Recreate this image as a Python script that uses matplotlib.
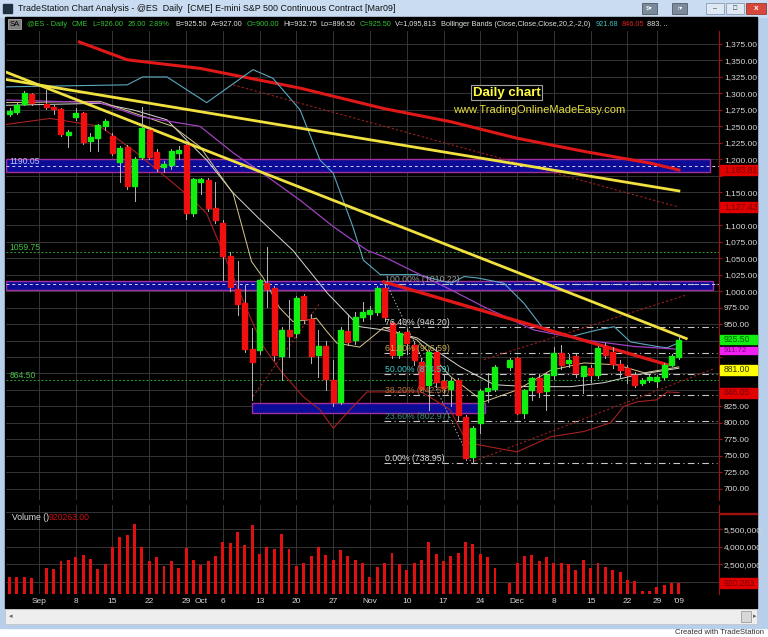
import numpy as np
import pandas as pd
import matplotlib
matplotlib.use('Agg')
import matplotlib.pyplot as plt
from matplotlib.patches import Rectangle

plt.rcParams['font.family'] = ['Liberation Sans', 'DejaVu Sans']

W, H = 768, 637

# ---- data -------------------------------------------------------------
days = [d.strftime('%Y-%m-%d') for d in pd.bdate_range('2008-08-26', '2009-01-02')
        if d.strftime('%m-%d') not in ('12-25', '01-01')]

nan = np.nan
opens = [1269, 1272, 1284, 1299, nan, 1284, 1280, 1276, 1237,
         1264, 1270, 1228, 1233, 1251, 1235, 1196, 1219, 1160, 1204,
         1245, 1211, 1188, 1191, 1210, 1222, 1119, 1166, 1168, 1126,
         1104, 1053, 1003, 982, 912, 910, 1013, 1005, 901, 941,
         937, 993, 957, 903, 916, 865, 832, 939, 926, 961,
         965, 969, 1004, 952, 903, 938, 918, 893, 858, 908,
         864, 852, 865, 809, 749, 800, 848, 852, nan, 885,
         898, 815, 850, 868, 848, 873, 906, 891, 901, 871,
         884, 873, 916, 908, 890, 883, 873, 860, 865, 864, 870, 888, 900]
highs = [1278, 1285, 1303, 1301, nan, 1305, 1283, 1278, 1244,
         1278, 1272, 1240, 1254, 1261, 1240, 1220, 1222, 1203, 1280,
         1248, 1215, 1198, 1216, 1220, 1225, 1172, 1172, 1172, 1165,
         1108, 1060, 1045, 1009, 944, 1018, 1067, 1008, 945, 987,
         992, 995, 965, 941, 925, 895, 945, 965, 969, 984,
         978, 1008, 1010.22, 955, 940, 943, 925, 898, 910, 915,
         872, 868, 868, 812, 795, 851, 876, 888, nan, 898,
         900, 852, 870, 872, 876, 915, 918, 905, 905, 886,
         888, 916, 921, 915, 895, 888, 877, 868, 873, 873, 891, 905, 932.75]
lows = [1265, 1268, 1282, 1282, nan, 1276, 1268, 1235, 1219,
        1260, 1223, 1213, 1213, 1245, 1207, 1165, 1155, 1136, 1200,
        1200, 1183, 1180, 1185, 1200, 1110, 1114, 1148, 1122, 1104,
        1017, 1000, 964, 908, 835, 905, 976, 895, 865, 900,
        930, 952, 891, 870, 850, 825, 828, 918, 920, 955,
        958, 963, 955, 898, 898, 905, 888, 850, 820, 855,
        845, 825, 805, 743, 738.95, 785, 832, 848, nan, 880,
        813, 808, 835, 840, 820, 866, 882, 885, 870, 845,
        862, 868, 898, 884, 870, 860, 855, 857, 862, 855, 866, 886, 896.5]
closes = [1274, 1282, 1301, 1285, nan, 1279, 1276, 1238, 1242,
          1270, 1226, 1234, 1252, 1258, 1210, 1217, 1160, 1200, 1248,
          1204, 1187, 1193, 1213, 1214, 1119, 1170, 1170, 1126, 1108,
          1053, 1006, 980, 912, 892, 1017, 1003, 903, 941, 932,
          990, 957, 901, 916, 866, 832, 941, 923, 961, 969,
          971, 1005, 961, 903, 936, 921, 895, 852, 908, 862,
          853, 864, 812, 746, 792, 848, 853, 885, nan, 895,
          815, 850, 868, 847, 873, 906, 888, 896, 875, 886,
          873, 913, 903, 890, 880, 872, 858, 865, 870, 870, 888, 902, 925.5]
volume_m = [1.39, 1.39, 1.40, 1.30, 0.0, 2.16, 2.10, 2.79, 2.85,
            3.10, 3.30, 3.00, 2.10, 2.50, 4.00, 4.87, 5.00, 5.96, 4.00,
            2.75, 3.10, 2.40, 2.75, 2.20, 3.90, 2.85, 2.45, 2.75, 3.20,
            4.44, 4.35, 5.30, 4.20, 5.87, 3.40, 4.00, 3.80, 5.10, 3.80,
            2.40, 2.60, 3.20, 4.00, 3.30, 2.85, 3.70, 3.25, 2.85, 2.65,
            1.40, 2.25, 2.65, 3.50, 2.55, 2.05, 2.60, 2.85, 4.45, 3.40,
            2.80, 3.20, 3.45, 4.45, 4.25, 3.40, 3.15, 2.20, 0.0, 0.87,
            2.60, 3.20, 3.30, 2.80, 3.15, 2.60, 2.60, 2.55, 2.05, 2.85,
            2.20, 2.60, 2.30, 2.05, 1.85, 1.15, 1.05, 0.20, 0.20, 0.55, 0.70, 0.90, 0.92]

# indicator lines (bar index, price)
bb_up_x = [-0.4, 16, 18.1, 21.4, 26.8, 33.1, 35.8, 39.5, 42.2, 44, 46.7, 48.1, 50.4, 55.4,
           60, 61.8, 63.6, 67.2, 69.9, 72.7, 76.3, 79.9, 82.2, 84.4, 88, 89.4, 91]
bb_up_y = [1310, 1313, 1325, 1325, 1286, 1336, 1323, 1275, 1199, 1179, 1097, 1047, 1025, 1025,
           1012, 1022, 1020, 1012, 982, 941, 931, 941, 946, 923, 916, 914, 921.7]
bb_mid_x = [-0.4, 12.3, 16.8, 21.4, 24.1, 26.8, 30.4, 34.1, 38.5, 43.2, 47.6, 50.9, 55.4,
            61.3, 65.9, 70.4, 76.3, 80.8, 85.3, 91]
bb_mid_y = [1282, 1285, 1275, 1260, 1229, 1199, 1149, 1108, 1062, 997, 946, 941, 929,
            885, 858, 855, 855, 861, 873, 883]
bb_low_x = [-0.4, 5.5, 12.3, 16.8, 21.8, 24.5, 26.8, 32.7, 34.5, 36.8, 39.9, 42.2, 44, 46.3,
            48.6, 56, 59.9, 62.2, 69, 73.6, 78.1, 81.7, 83.5, 85.3, 88, 89.4, 91]
bb_low_y = [1253, 1262, 1250, 1214, 1168, 1143, 1118, 961, 916, 880, 840, 820, 792, 820,
            847, 847, 820, 770, 756, 779, 787, 800, 825, 832, 835, 847, 846.05]
ma_fast_x = [-0.4, 12.3, 22.2, 25.9, 30.4, 32.9, 34.5, 36.7, 38.5, 40.4, 41.7, 43.2, 44.5,
             47.6, 50.9, 55.4, 60, 64.5, 69, 73.6, 78.1, 82.6, 86.3, 91]
ma_fast_y = [1286, 1288, 1250, 1219, 1148, 1045, 1020, 975, 954, 956, 959, 938, 921,
             915, 945, 926, 870, 832, 850, 880, 891, 888, 876, 885]
ma_slow_x = [-0.4, 12.3, 17.7, 25.9, 30.4, 35, 39.5, 44, 48.6, 50.9, 60, 64.5, 71.3, 78.1,
             84.9, 91]
ma_slow_y = [1290, 1286, 1265, 1250, 1210, 1174, 1138, 1098, 1062, 1052, 1002, 976, 941, 926,
             916, 911.72]
ma_long_x = [9.5, 16, 25.9, 39.5, 50.9, 60, 69, 78.1, 87.2, 91]
ma_long_y = [1378, 1351, 1338, 1308, 1277, 1257, 1232, 1212, 1194, 1183.81]

# drawn trendlines (start/end bar index, start/end price)
yellow_lines = [(-0.4, 1321, 91, 1152), (-0.4, 1332, 92, 928)]
red_trend = (50.9, 1014, 89.5, 888)
red_dotted = [(30.4, 1313, 91, 1127.43), (33.1, 840, 42.2, 982),
              (63.2, 742, 95.9, 883), (64.5, 896, 92, 994)]
fib_hi, fib_lo = 1010.22, 738.95
fib_ratios = [1.0, 0.764, 0.618, 0.5, 0.382, 0.236, 0.0]
fib_colors = ['#9a9a9a', '#e0e0e0', '#c8b050', '#40c8c8', '#b07030', '#3c8c84', '#e0e0e0']
bands = [(-0.5, 95.2, 1181, 1200, 1190.05), (-0.5, 95.7, 1001.7, 1015.8, 1010.22),
         (33.0, 64.7, 815.5, 830.7, None)]
green_levels = [1059.75, 864.50]

date_ticks = ['2008-09-01', '2008-09-08', '2008-09-15', '2008-09-22', '2008-09-29',
              '2008-10-01', '2008-10-06', '2008-10-13', '2008-10-20', '2008-10-27',
              '2008-11-03', '2008-11-10', '2008-11-17', '2008-11-24', '2008-12-01',
              '2008-12-08', '2008-12-15', '2008-12-22', '2008-12-29', '2009-01-02']
date_labels = ['Sep', '8', '15', '22', '29', 'Oct', '6', '13', '20', '27',
               'Nov', '10', '17', '24', 'Dec', '8', '15', '22', '29', "'09"]

# ---- figure -----------------------------------------------------------
fig = plt.figure(figsize=(W / 100, H / 100), dpi=100)
fig.patch.set_facecolor('white')


def px_rect(x0, y0, x1, y1, **kw):
    r = Rectangle((x0 / W, 1 - y1 / H), (x1 - x0) / W, (y1 - y0) / H,
                  transform=fig.transFigure, **kw)
    fig.add_artist(r)
    return r


def px_text(x, y, s, **kw):
    return fig.text(x / W, 1 - y / H, s, **kw)


# window chrome
px_rect(0, 0, 768, 628, color='#b7cfea', zorder=-10)
px_rect(0, 0, 768, 17, color='#c9dcf2', zorder=-9)
px_rect(5, 17, 757, 608, color='black', zorder=-8)
px_rect(5, 609, 757, 624, color='#eeeeee', zorder=-8, ec='#c0c0c0', lw=0.5)
px_rect(741, 611, 751, 622, color='#d8d8d8', ec='#909090', lw=0.5, zorder=-7)
px_text(9, 616.5, '◂', fontsize=5, color='#606060', va='center')
px_text(753, 616.5, '▸', fontsize=5, color='#606060', va='center')
px_rect(3, 4, 12, 13, color='#203040', zorder=-7)
px_text(18, 8.5, 'TradeStation Chart Analysis - @ES  Daily  [CME] E-mini S&P 500 Continuous Contract [Mar09]',
        fontsize=6.4, color='#101010', va='center')
for bx, lab in [(642, '$▾'), (672, '↕▾')]:
    px_rect(bx, 3, bx + 15, 14, color='#7a8a9a', ec='#404850', lw=0.5)
    px_text(bx + 7.5, 8.5, lab, fontsize=4.5, color='white', ha='center', va='center')
px_rect(706, 3, 724, 14, color='#dfe8f3', ec='#7890a8', lw=0.5)
px_rect(726, 3, 744, 14, color='#dfe8f3', ec='#7890a8', lw=0.5)
px_rect(746, 3, 766, 14, color='#d8473a', ec='#8a2a20', lw=0.5)
px_text(715, 9, '–', fontsize=5, color='#303030', ha='center', va='center')
px_text(735, 8.5, '□', fontsize=5, color='#303030', ha='center', va='center')
px_text(756, 8.5, 'x', fontsize=6, color='white', ha='center', va='center', weight='bold')
px_text(764, 632, 'Created with TradeStation', fontsize=5.5, color='#303030', ha='right', va='center')

# header line, laid out left to right
px_rect(8, 19, 21, 29, color='#808080', ec='#c0c0c0', lw=0.5)
px_text(10, 24, 'SA', fontsize=5.5, color='black', va='center')
hdr = [('@ES - Daily', '#30c030', 5), ('CME', '#30c030', 4), ('L=926.00', '#30c030', 4),
       ('26.00', '#30c030', 3), ('2.89%', '#30c030', 5), ('B=925.50', '#e0e0e0', 4),
       ('A=927.00', '#e0e0e0', 4), ('O=900.00', '#30c030', 4), ('Hi=932.75', '#e0e0e0', 4),
       ('Lo=896.50', '#e0e0e0', 4), ('C=925.50', '#30c030', 4), ('V=1,095,813', '#e0e0e0', 4),
       ('Bollinger Bands (Close,Close,Close,20,2,-2,0)', '#e0e0e0', 5),
       ('921.68', '#40c0c0', 3), ('846.05', '#e02020', 3), ('883. ..', '#e0e0e0', 3)]
renderer = fig.canvas.get_renderer()
hx = 27
for s, c, gap in hdr:
    t = px_text(hx, 24, s, fontsize=5.3, color=c, va='center')
    hx = t.get_window_extent(renderer).x1 + gap

x_of = {d: i for i, d in enumerate(days)}
xt = [x_of[d] for d in date_ticks]
grid_x = [x for x, lab in zip(xt, date_labels) if lab not in ('Oct', "'09")]
xlim = ((6 - 9.5) / 7.356, (719 - 9.5) / 7.356)

# ---- price panel ------------------------------------------------------
ax = fig.add_axes([6 / W, 1 - 500 / H, 713 / W, 469 / H])
ax.set_facecolor('black')
ax.set_xlim(*xlim)
ax.set_ylim(683.0, 1394.7)
for s in ('top', 'left', 'bottom'):
    ax.spines[s].set_visible(False)
ax.spines['right'].set_color('#a01010')
ax.yaxis.tick_right()
yt = np.arange(700, 1376, 25)
hidden = {1175, 1125, 925, 900, 875, 850}
ax.set_yticks(yt)
ax.set_yticklabels(['' if v in hidden else f'{v:,.2f}' for v in yt])
ax.tick_params(axis='y', colors='#a01010', labelcolor='#d8d8d8', labelsize=6, length=2, pad=1.5)
ax.set_xticks([])
for v in yt:
    ax.axhline(v, color='#3c3c3c', lw=0.6, zorder=0)
for gx in grid_x:
    ax.axvline(gx, color='#3c3c3c', lw=0.6, zorder=0)

# support / resistance bands
for x0, x1, lo, hi, mid in bands:
    ax.add_patch(Rectangle((x0, lo), x1 - x0, hi - lo, facecolor='#0c0c96',
                           edgecolor='#a030a0', lw=1.0, zorder=1))
    if mid is not None:
        ax.plot([x0, xlim[1]], [mid, mid], color='#d0d0ff', lw=0.7, ls=(0, (3, 3)), zorder=2)
for lv in green_levels:
    ax.axhline(lv, color='#30a030', lw=0.7, ls=(0, (2, 2)), zorder=2)
ax.text(0.0, 1193, '1190.05', color='#b8c8ff', fontsize=6.2, zorder=6)
ax.text(0.0, 1063, '1059.75', color='#40c040', fontsize=6.2, zorder=6)
ax.text(0.0, 868, '864.50', color='#40c040', fontsize=6.2, zorder=6)

# fibonacci
fib_x0 = 50.9
for r, c in zip(fib_ratios, fib_colors):
    lv = fib_lo + r * (fib_hi - fib_lo)
    ax.plot([fib_x0, 96.2], [lv, lv], color='#c8c8c8', lw=0.8, ls=(0, (6, 3, 1, 3)), zorder=2)
    ax.text(fib_x0 + 0.1, lv + 3, f'{r * 100:.2f}% ({lv:.2f})', color=c, fontsize=6.3, zorder=6)
ax.plot([51.3, 62.8], [fib_hi, fib_lo], color='#b0b0b0', lw=0.7, ls=(0, (1.5, 2)), zorder=2)

# moving averages / bollinger
ax.plot(ma_long_x, ma_long_y, color='#e01818', lw=2.2, zorder=3)
ax.plot(bb_up_x, bb_up_y, color='#58a8c0', lw=0.8, zorder=3)
ax.plot(bb_low_x, bb_low_y, color='#a82020', lw=0.8, zorder=3)
ax.plot(bb_mid_x, bb_mid_y, color='#d8d8d0', lw=0.7, zorder=3)
ax.plot(ma_fast_x, ma_fast_y, color='#d8c890', lw=0.7, zorder=3)
ax.plot(ma_slow_x, ma_slow_y, color='#a040c0', lw=0.9, zorder=3)
for x0, y0, x1, y1 in red_dotted:
    ax.plot([x0, x1], [y0, y1], color='#a02020', lw=0.8, ls=(0, (2, 2)), zorder=3)
for x0, y0, x1, y1 in yellow_lines:
    ax.plot([x0, x1], [y0, y1], color='#f0e040', lw=2.0, zorder=4)
ax.plot([red_trend[0], red_trend[2]], [red_trend[1], red_trend[3]], color='#e01818', lw=2.4, zorder=4)

# candles
for i, (o, h, l, c) in enumerate(zip(opens, highs, lows, closes)):
    if np.isnan(o):
        continue
    ax.plot([i, i], [l, h], color='#b8b8b8', lw=0.7, zorder=5)
    col = '#10f010' if c >= o else '#f01010'
    ax.add_patch(Rectangle((i - 0.34, min(o, c)), 0.68, max(abs(c - o), 1.2),
                           color=col, zorder=5.5))

ax.text(67.6, 1301, 'Daily chart', color='#ffff40', fontsize=9.5, weight='bold', ha='center',
        va='center', zorder=7, bbox=dict(facecolor='black', edgecolor='#a0a0a0', pad=1.2, lw=0.8))
ax.text(72.0, 1275, 'www.TradingOnlineMadeEasy.com', color='#e8e040', fontsize=8,
        ha='center', va='center', zorder=7)


# colored price markers on the axis
def price_y(p):
    return 44 + (1375 - p) / 1.5175


for p, s, bg, fg, dy, hh in [(1183.81, '1,183.81', '#e00000', '#7a0000', 0, 5),
                             (1127.43, '1,127.43', '#e00000', '#7a0000', 0, 5),
                             (925.50, '925.50', '#10f010', '#006000', -0.5, 4.6),
                             (911.72, '911.72', '#f020f0', '#800080', 1.5, 3.6),
                             (881.00, '881.00', '#ffff00', '#303000', 0, 5),
                             (846.05, '846.05', '#e00000', '#7a0000', 0, 5)]:
    yy = price_y(p) + dy
    px_rect(720, yy - hh, 757, yy + hh, color=bg, zorder=8)
    px_text(724, yy, s, fontsize=5.6 if hh < 4 else 6.2, color=fg, va='center', zorder=9)

# ---- volume panel -----------------------------------------------------
av = fig.add_axes([6 / W, 1 - 594 / H, 713 / W, 89 / H])
av.set_facecolor('black')
av.set_xlim(*xlim)
av.set_ylim(-0.04, 7.59)
for s in ('top', 'left', 'bottom'):
    av.spines[s].set_visible(False)
av.spines['right'].set_color('#a01010')
av.yaxis.tick_right()
av.set_yticks([2.5, 4.0, 5.5])
av.set_yticklabels(['2,500,000', '4,000,000', '5,500,000'])
av.tick_params(axis='y', colors='#a01010', labelcolor='#d8d8d8', labelsize=6, length=2, pad=1.5)
av.set_xticks(xt)
av.set_xticklabels(date_labels)
av.tick_params(axis='x', length=0, labelcolor='#d8d8d8', labelsize=6, pad=3)
for v in [1.0, 2.5, 4.0, 5.5, 7.0]:
    av.axhline(v, color='#3c3c3c', lw=0.6, zorder=0)
for gx in grid_x:
    av.axvline(gx, color='#3c3c3c', lw=0.6, zorder=0)
av.bar(range(len(volume_m)), volume_m, width=0.4, color='#e01010', zorder=3)
av.text(0.3, 6.3, 'Volume ()', color='#e0e0e0', fontsize=6.2)
av.text(5.3, 6.3, '920263.00', color='#d01010', fontsize=6.2)
px_rect(720, 513, 757, 514, color='#a01010', zorder=8)
px_rect(720, 578, 757, 588, color='#e00000', zorder=8)
px_text(724, 583, '920,263', fontsize=6.2, color='#7a0000', va='center', zorder=9)

fig.savefig('out.png', dpi=100, facecolor=fig.get_facecolor())
